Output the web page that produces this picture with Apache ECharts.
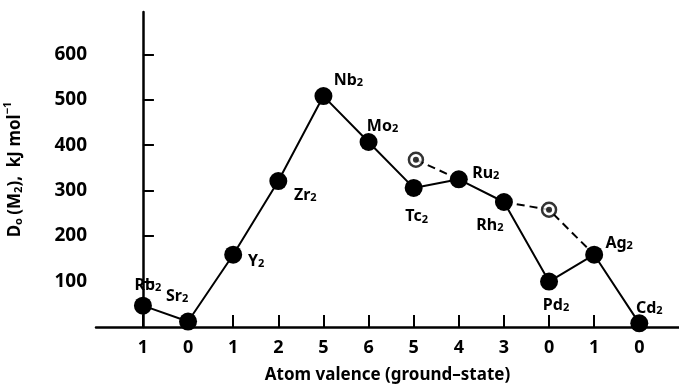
<!DOCTYPE html>
<html>
<head>
<meta charset="utf-8">
<title>D0(M2) vs atom valence</title>
<script src="https://cdn.jsdelivr.net/npm/echarts@6/dist/echarts.min.js"></script>
</head>
<body style="margin:0">
<div id="main" style="width:679px;height:389px;"></div>
<script type="text/javascript">
// molecules along the row, in order
var molecules = ['Rb', 'Sr', 'Y', 'Zr', 'Nb', 'Mo', 'Tc', 'Ru', 'Rh', 'Pd', 'Ag', 'Cd'];
// ground-state atom valence (x tick labels)
var valence = ['1', '0', '1', '2', '5', '6', '5', '4', '3', '0', '1', '0'];
// D0 in kJ/mol (filled points)
var d0 = [47, 12, 159, 321, 508, 407, 306, 325, 275, 100, 159, 8];
// circled (estimated) points: [position index, D0]
var circledTc = [6.05, 368];
var circledPd = [9, 258];
var yTicks = [100, 200, 300, 400, 500, 600];

// label offsets from point centre (px), style only
var labelOffset = [[5, -23], [-11, -28], [23, 4], [27, 11], [25, -19], [14, -19],
                   [3, 26], [27, -9], [-14, 20], [7, 21], [25, -14], [10, -18]];

var FONT = 'Noto Sans';
var rich = {
    n: { fontFamily: FONT, fontWeight: 'bold', fontSize: 16, lineHeight: 22, verticalAlign: 'bottom', color: '#000' },
    s: { fontFamily: FONT, fontWeight: 'bold', fontSize: 11, lineHeight: 8, verticalAlign: 'bottom', color: '#000' }
};

var mainData = d0.map(function (v, i) {
    return {
        value: [i, v],
        label: {
            show: true,
            position: 'inside',
            offset: labelOffset[i],
            formatter: '{n|' + molecules[i] + '}{s|2}',
            rich: rich
        }
    };
});

var idx = valence.map(function (v, i) { return i; });

var myChart = echarts.init(document.getElementById('main'));
myChart.setOption({
    backgroundColor: '#fff',
    animation: false,
    grid: { left: 96, right: 0, top: 12, bottom: 62, outerBoundsMode: 'none', containLabel: false },
    xAxis: {
        type: 'value',
        min: -1.04,
        max: 11.88,
        splitLine: { show: false },
        axisLine: { lineStyle: { color: '#000', width: 2.5 } },
        axisTick: { inside: true, length: 12, customValues: idx, lineStyle: { color: '#000', width: 2 } },
        axisLabel: {
            customValues: idx,
            margin: 12,
            formatter: function (v) { return valence[Math.round(v)]; },
            fontFamily: FONT, fontWeight: 'bold', fontSize: 18, color: '#000'
        },
        name: 'Atom valence (ground\u2013state)',
        nameLocation: 'middle',
        nameGap: 40,
        nameTextStyle: { fontFamily: FONT, fontWeight: 'bold', fontSize: 17, color: '#000' }
    },
    yAxis: {
        type: 'value',
        min: 0,
        max: 693,
        splitLine: { show: false },
        axisLine: { show: true, lineStyle: { color: '#000', width: 2.5 } },
        axisTick: { show: true, inside: true, length: 11, customValues: yTicks, lineStyle: { color: '#000', width: 2 } },
        axisLabel: {
            customValues: yTicks,
            margin: 9,
            fontFamily: FONT, fontWeight: 'bold', fontSize: 19, color: '#000'
        },
        name: '{n|D}{s|o} {n|(M}{s|2}{n|),  kJ mol}{p|\u22121}',
        nameLocation: 'middle',
        nameGap: 72,
        nameTextStyle: {
            rich: {
                n: { fontFamily: FONT, fontWeight: 'bold', fontSize: 17, lineHeight: 22, verticalAlign: 'bottom', color: '#000' },
                s: { fontFamily: FONT, fontWeight: 'bold', fontSize: 11, lineHeight: 8, verticalAlign: 'bottom', color: '#000' },
                p: { fontFamily: FONT, fontWeight: 'bold', fontSize: 11, lineHeight: 8, verticalAlign: 'top', color: '#000' }
            }
        }
    },
    series: [
        {
            type: 'line',
            data: [circledTc, [7, d0[7]]],
            symbol: 'none',
            lineStyle: { color: '#000', width: 2, type: [8, 5] },
            z: 1
        },
        {
            type: 'line',
            data: [[8, d0[8]], circledPd, [10, d0[10]]],
            symbol: 'none',
            lineStyle: { color: '#000', width: 2, type: [8, 5] },
            z: 1
        },
        {
            type: 'line',
            data: mainData,
            symbol: 'circle',
            symbolSize: 18,
            itemStyle: { color: '#000' },
            lineStyle: { color: '#000', width: 2 },
            z: 3
        },
        {
            type: 'scatter',
            data: [circledTc, circledPd],
            symbol: 'circle',
            symbolSize: 14,
            itemStyle: { color: '#fff', borderColor: '#000', borderWidth: 2.5 },
            z: 4
        },
        {
            type: 'scatter',
            data: [circledTc, circledPd],
            symbol: 'circle',
            symbolSize: 6,
            itemStyle: { color: '#000' },
            z: 5
        }
    ]
});
</script>
</body>
</html>
